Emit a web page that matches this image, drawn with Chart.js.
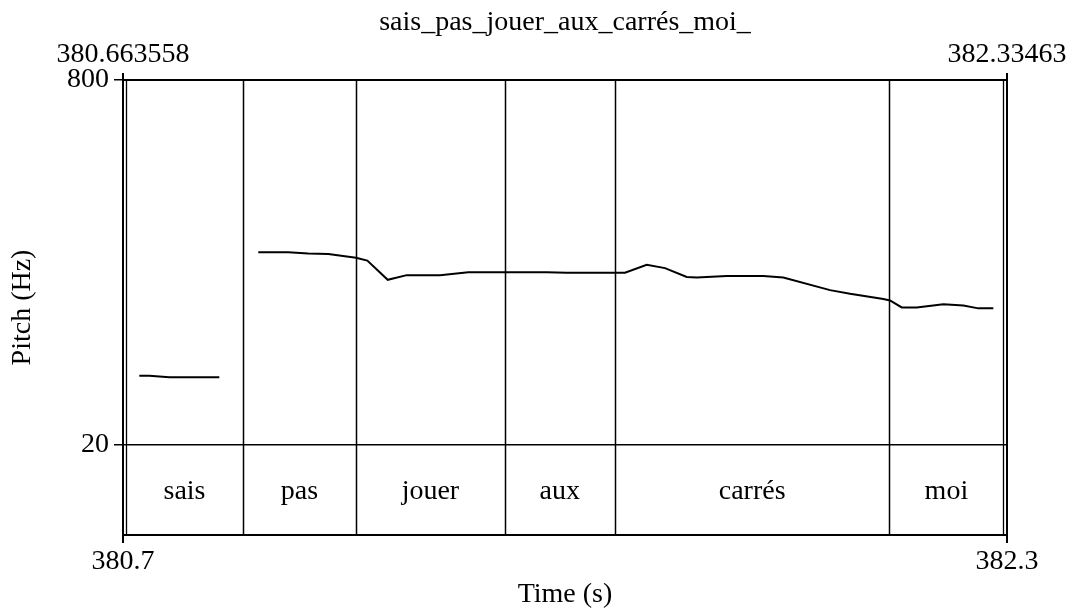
<!DOCTYPE html>
<html>
<head>
<meta charset="utf-8">
<script src="https://cdn.jsdelivr.net/npm/chart.js@4/dist/chart.umd.min.js"></script>
<style>
  html, body { margin: 0; padding: 0; background: #fff; }
  canvas { display: block; }
</style>
</head>
<body>
<canvas id="c" width="1072" height="609"></canvas>
<script>
// Pitch contour with a word tier underneath (Praat-style drawing)
const chartTitle = 'sais_pas_jouer_aux_carrés_moi_';
const timeStart = 380.663558;
const timeEnd = 382.33463;
const topTickLabels = ['380.663558', '382.33463'];
const bottomTickLabels = ['380.7', '382.3'];
const pitchTicks = [20, 800];

// word tier: labels and interval boundaries (s)
const words = ['sais', 'pas', 'jouer', 'aux', 'carrés', 'moi'];
const wordBounds = [380.663558, 380.8895, 381.1046, 381.3848, 381.5937, 382.1121, 382.33463];

// pitch track (s, Hz); null marks the unvoiced gap
const pitchTimes = [
  380.6944, 380.7133, 380.7511, 380.8456,
  380.8800,
  380.9193, 380.9760, 381.0138, 381.0516, 381.1040, 381.1254, 381.1640, 381.2000,
  381.2628, 381.3163, 381.3511, 381.4645, 381.5023, 381.6125, 381.6536, 381.6882,
  381.7292, 381.7481, 381.8048, 381.8740, 381.9118, 382.0001, 382.0379, 382.1009,
  382.1135, 382.1356, 382.1640, 382.2143, 382.2521, 382.2804, 382.3088
];
const pitchHz = [
  168, 168, 165, 165,
  null,
  432, 432, 429, 428, 420, 414, 373, 383,
  383, 389, 389, 389, 388, 388, 405, 398,
  379, 378, 381, 381, 378, 351, 343, 332,
  329, 314, 314, 321, 318, 312, 312
];

const FONT = { family: "'Liberation Serif', 'Times New Roman', serif", size: 28 };
const TITLE_FONT = { family: FONT.family, size: 28, lineHeight: 1 };
Chart.defaults.color = '#000';
Chart.defaults.font.family = FONT.family;

// share of the plot height taken by the word tier below the pitch range
const tierShare = 90 / 455;
const pitchFloor = pitchTicks[0], pitchCeil = pitchTicks[1];
const yMin = (pitchFloor - tierShare * pitchCeil) / (1 - tierShare);

const points = pitchTimes.map((t, i) => ({ x: t, y: pitchHz[i] }));

const frameInset = 3.5;

const tierPlugin = {
  id: 'tierPlugin',
  beforeDraw(chart) {
    const { ctx } = chart;
    ctx.save();
    ctx.fillStyle = '#fff';
    ctx.fillRect(0, 0, chart.width, chart.height);
    ctx.restore();
  },
  afterDraw(chart) {
    const { ctx, chartArea: a, scales } = chart;
    const x = scales.x;
    ctx.save();
    ctx.strokeStyle = '#000';
    // outer right edge of the frame
    ctx.lineWidth = 2;
    ctx.beginPath();
    ctx.moveTo(a.right, a.top);
    ctx.lineTo(a.right, a.bottom);
    ctx.stroke();
    // inner frame edges
    ctx.lineWidth = 1.3;
    ctx.beginPath();
    ctx.moveTo(a.left + frameInset, a.top);
    ctx.lineTo(a.left + frameInset, a.bottom);
    ctx.moveTo(a.right - frameInset, a.top);
    ctx.lineTo(a.right - frameInset, a.bottom);
    ctx.stroke();
    // word boundaries
    ctx.lineWidth = 1.5;
    ctx.beginPath();
    for (let i = 1; i < wordBounds.length - 1; i++) {
      const px = Math.round(x.getPixelForValue(wordBounds[i])) + 0.5;
      ctx.moveTo(px, a.top);
      ctx.lineTo(px, a.bottom);
    }
    ctx.stroke();
    // word labels
    const yTier = scales.y.getPixelForValue(pitchFloor);
    ctx.fillStyle = '#000';
    ctx.font = `${FONT.size}px ${FONT.family}`;
    ctx.textAlign = 'center';
    ctx.textBaseline = 'middle';
    words.forEach((w, i) => {
      let l = x.getPixelForValue(wordBounds[i]);
      let r = x.getPixelForValue(wordBounds[i + 1]);
      if (i === 0) l += frameInset;
      if (i === words.length - 1) r -= frameInset;
      ctx.fillText(w, (l + r) / 2, (yTier + a.bottom) / 2 + 2);
    });
    // title
    ctx.fillText(chartTitle, (a.left + a.right) / 2, 23);
    ctx.restore();
  }
};

new Chart(document.getElementById('c'), {
  type: 'line',
  data: {
    datasets: [{
      data: points,
      borderColor: '#000',
      borderWidth: 2,
      pointRadius: 0,
      tension: 0,
      spanGaps: false,
      fill: false
    }]
  },
  options: {
    responsive: false,
    animation: false,
    devicePixelRatio: 1,
    layout: { padding: { left: 0, right: 65, top: 0, bottom: 0 } },
    plugins: { legend: { display: false }, tooltip: { enabled: false }, title: { display: false } },
    scales: {
      x: {
        type: 'linear',
        position: 'bottom',
        min: timeStart,
        max: timeEnd,
        afterBuildTicks: s => { s.ticks = [{ value: timeStart }, { value: timeEnd }]; },
        afterFit: s => { s.height = 74; },
        ticks: {
          autoSkip: false, maxRotation: 0, padding: 2, font: FONT, color: '#000',
          callback: (v, i) => bottomTickLabels[i]
        },
        grid: { drawOnChartArea: false, drawTicks: true, tickLength: 8, color: '#000', lineWidth: 2 },
        border: { display: true, color: '#000', width: 2 },
        title: { display: true, text: 'Time (s)', font: TITLE_FONT, color: '#000', padding: { top: 0, bottom: 0 } }
      },
      xTop: {
        type: 'linear',
        position: 'top',
        min: timeStart,
        max: timeEnd,
        afterBuildTicks: s => { s.ticks = [{ value: timeStart }, { value: timeEnd }]; },
        afterFit: s => { s.height = 80; },
        ticks: {
          autoSkip: false, maxRotation: 0, padding: 2, font: FONT, color: '#000',
          callback: (v, i) => topTickLabels[i]
        },
        grid: { drawOnChartArea: false, drawTicks: true, tickLength: 7, color: '#000', lineWidth: 2 },
        border: { display: true, color: '#000', width: 2 }
      },
      y: {
        type: 'linear',
        position: 'left',
        min: yMin,
        max: pitchCeil,
        afterBuildTicks: s => { s.ticks = pitchTicks.map(v => ({ value: v })); },
        afterFit: s => { s.width = 123; },
        ticks: { autoSkip: false, padding: 5, font: FONT, color: '#000' },
        grid: { drawOnChartArea: true, drawTicks: true, tickLength: 9, color: '#000', lineWidth: 1.5 },
        border: { display: true, color: '#000', width: 2 },
        title: { display: true, text: 'Pitch (Hz)', font: FONT, color: '#000', padding: { top: 6, bottom: 0 } }
      }
    }
  },
  plugins: [tierPlugin]
});
</script>
</body>
</html>
